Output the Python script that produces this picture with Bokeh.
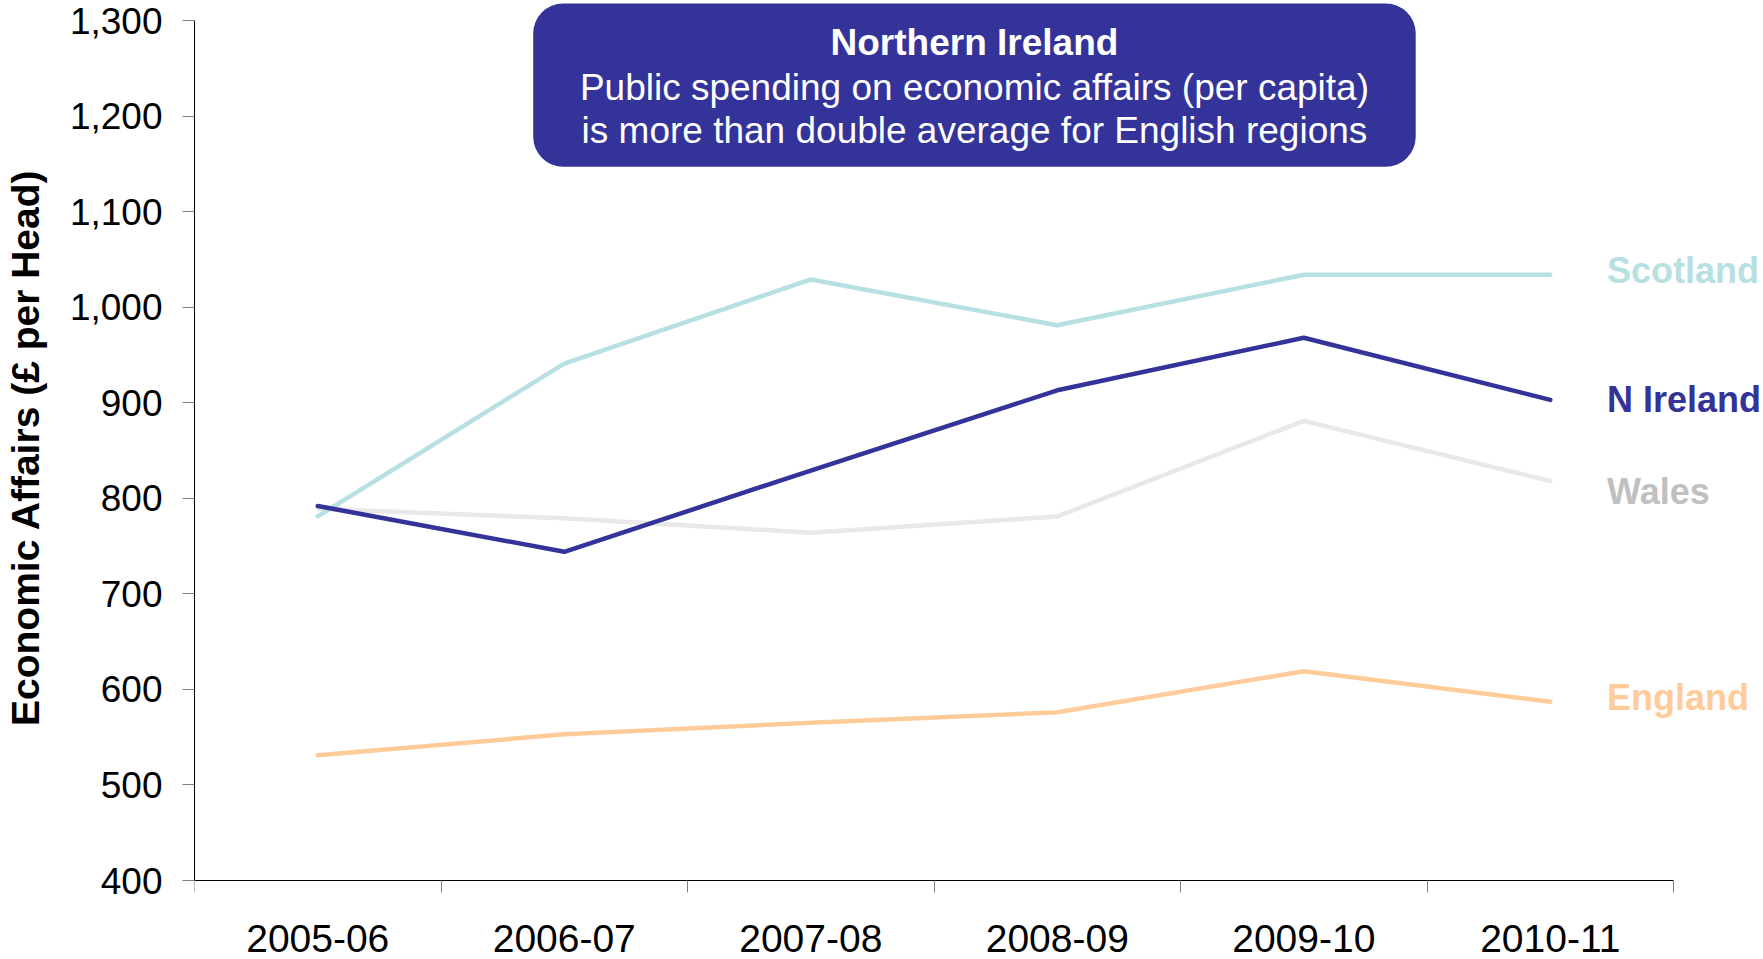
from bokeh.plotting import figure
from bokeh.models import (Range1d, FixedTicker, NumeralTickFormatter, BoxAnnotation,
                          Label, ColumnDataSource)
from bokeh.core.properties import value
from bokeh.embed import file_html
from bokeh.resources import INLINE

# ---- data ----
years = ["2005-06", "2006-07", "2007-08", "2008-09", "2009-10", "2010-11"]
scotland = [781, 941, 1029, 981, 1034, 1034]
n_ireland = [792, 744, 829, 913, 968, 903]
wales = [789, 779, 764, 781, 881, 818]
england = [531, 553, 565, 576, 619, 587]
series_names = ["Scotland", "N Ireland", "Wales", "England"]
y_ticks = [400, 500, 600, 700, 800, 900, 1000, 1100, 1200, 1300]
y_title = "Economic Affairs (£ per Head)"
title_lines = ["Northern Ireland",
               "Public spending on economic affairs (per capita)",
               "is more than double average for English regions"]

FONT = "Liberation Sans"
line_colors = ["#B7E0E3", "#333399", "#E8E8E8", "#FFCC99"]
label_colors = ["#B7E0E3", "#333399", "#C0C0C0", "#FFCC99"]

W, H = 1763, 959
FRAME_LEFT, AXIS_Y_PX = 193, 880
px_per_unit = 860 / 900.0
cat_w = (1673 - FRAME_LEFT) / 6.0
x_end = 6 + (W - 1673) / cat_w
y_end = 1300 + 20 / px_per_unit
y_start = 400 - (H - AXIS_Y_PX) / px_per_unit

p = figure(width=W, height=H, output_backend="svg", toolbar_location=None,
           x_range=Range1d(0, x_end), y_range=Range1d(y_start, y_end),
           min_border_left=FRAME_LEFT, min_border_right=0, min_border_top=0,
           min_border_bottom=0)
p.outline_line_color = None
p.grid.visible = False
p.background_fill_color = "white"
p.border_fill_color = "white"

xs = [i + 0.5 for i in range(len(years))]
all_series = [scotland, n_ireland, wales, england]
# draw order: England, Wales, Scotland, N Ireland on top
for idx in [3, 2, 0, 1]:
    p.line(xs, all_series[idx], line_color=line_colors[idx], line_width=4.5,
           line_cap="round", line_join="round")

# end labels
label_y_adjust = [4, 0, -11, 4]
lab_src = ColumnDataSource(dict(
    x=[xs[-1] + 0.23] * 4,
    y=[s[-1] + a for s, a in zip(all_series, label_y_adjust)],
    text=series_names,
    color=label_colors,
))
p.text(x="x", y="y", text="text", source=lab_src, text_color="color",
       text_font=value(FONT), text_font_style="bold", text_font_size="36px",
       text_align="left", text_baseline="middle")

# title box
box = BoxAnnotation(left=1.374, right=4.954, top=1317.8, bottom=1147,
                    fill_color="#333399", fill_alpha=1.0, line_color=None,
                    border_radius=30, level="overlay")
p.add_layout(box)
title_y = [1277, 1230, 1185]
for i, t in enumerate(title_lines):
    p.add_layout(Label(x=3.164, y=title_y[i], text=t, text_align="center",
                       text_baseline="middle", text_color="white",
                       text_font=FONT, text_font_size="37px",
                       text_font_style="bold" if i == 0 else "normal",
                       level="overlay"))

# y axis
ya = p.yaxis[0]
ya.bounds = (400, 1300)
ya.ticker = FixedTicker(ticks=y_ticks, minor_ticks=[])
ya.formatter = NumeralTickFormatter(format="0,0")
ya.axis_line_color = "black"
ya.major_tick_out = 12
ya.major_tick_in = 0
ya.major_tick_line_color = "#808080"
ya.major_label_standoff = 20
ya.major_label_text_font = FONT
ya.major_label_text_font_size = "37px"
ya.major_label_text_color = "black"
# leading no-break spaces lift the rotated title to sit beside the 400-1300 span
ya.axis_label = "\u00a0" * 6 + y_title
ya.axis_label_text_font = FONT
ya.axis_label_text_font_style = "bold"
ya.axis_label_text_font_size = "39px"
ya.axis_label_text_color = "black"
ya.axis_label_standoff = 20

# x axis at value 400: tick marks at category boundaries, names at centres
xa = p.xaxis[0]
xa.fixed_location = 400
xa.bounds = (0, 6)
xa.ticker = FixedTicker(ticks=xs, minor_ticks=list(range(len(years) + 1)))
xa.major_label_overrides = {x: yr for x, yr in zip(xs, years)}
xa.axis_line_color = "black"
xa.major_tick_line_color = None
xa.major_tick_out = 12
xa.major_tick_in = 0
xa.minor_tick_out = 12
xa.minor_tick_in = 0
xa.minor_tick_line_color = "#808080"
xa.major_label_standoff = 32
xa.major_label_text_font = FONT
xa.major_label_text_font_size = "39px"
xa.major_label_text_color = "black"

open("out.html", "w").write(file_html(p, INLINE))
